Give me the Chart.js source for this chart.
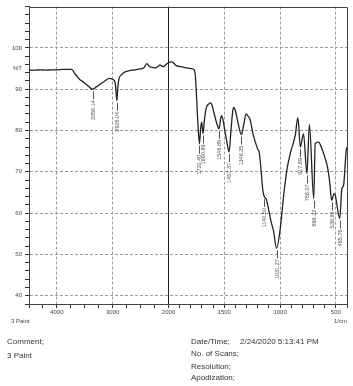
<!DOCTYPE html>
<html><head><meta charset="utf-8">
<script src="https://cdn.jsdelivr.net/npm/chart.js@4.4.0/dist/chart.umd.min.js"></script>
<style>
html,body{margin:0;padding:0;background:#fff;}
#wrap{position:relative;width:353px;height:386px;overflow:hidden;font-family:"Liberation Sans",Arial,sans-serif;color:#333;}
#c{position:absolute;left:0;top:0;}
.t{position:absolute;font-size:8px;line-height:10px;white-space:nowrap;}
.s{position:absolute;font-size:6px;line-height:8px;white-space:nowrap;color:#444;}
</style></head><body>
<div id="wrap">
<canvas id="c" width="353" height="330"></canvas>
<div class="s" style="left:11px;top:317px">3 Paint</div>
<div class="s" style="right:6px;top:317px">1/cm</div>
<div class="t" style="left:7px;top:337px">Comment;</div>
<div class="t" style="left:7px;top:351px">3 Paint</div>
<div class="t" style="left:191px;top:337px">Date/Time;</div>
<div class="t" style="left:240px;top:337px">2/24/2020 5:13:41 PM</div>
<div class="t" style="left:191px;top:349px">No. of Scans;</div>
<div class="t" style="left:191px;top:362px">Resolution;</div>
<div class="t" style="left:191px;top:373px">Apodization;</div>
</div>
<script>
// ---- data (wavenumber in 1/cm, transmittance %T) ----
const wavenumbers = [4500,4400,4300,4200,4100,4000,3900,3800,3734,3680,3620,3586,3540,3496,3440,3400,3356,3300,3226,3140,3060,3020,2990,2960,2945,2926,2910,2890,2850,2778,2700,2600,2510,2440,2389,2360,2330,2290,2240,2190,2150,2120,2090,2050,2001,1970,1950,1930,1900,1850,1800,1770,1760,1748,1735,1722,1712,1702,1690,1678,1660,1640,1627,1610,1590,1570,1546,1535,1527,1513,1495,1475,1457,1440,1425,1417,1400,1381,1346,1325,1304,1285,1268,1245,1223,1200,1185,1154,1140,1125,1110,1080,1060,1031,1000,969,939,909,864,840,818,790,759,737,698,685,655,625,595,575,555,538,515,505,465,446,431,407,400];
const transmittance = [94.6,94.6,94.7,94.6,94.7,94.7,94.8,94.8,94.8,93.8,92.8,92.3,91.9,91.4,90.8,90.3,90.0,90.5,91.2,92.0,92.6,92.5,92.3,91.8,90.4,87.2,90.0,92.4,93.4,94.2,94.5,94.7,94.9,95.2,96.2,95.8,95.4,95.3,95.1,95.5,95.9,95.6,95.5,95.9,96.4,96.6,96.2,95.7,95.5,95.2,95.0,94.7,93.5,88.0,81.0,76.8,80.5,82.0,79.3,82.5,85.6,86.4,86.7,86.2,84.0,82.0,80.4,82.5,83.6,82.8,80.0,77.0,74.8,80.0,84.5,85.6,84.8,82.4,79.0,81.5,84.0,83.4,82.6,79.5,77.3,75.5,74.5,65.5,63.9,63.5,61.9,57.9,55.9,51.5,55.9,63.9,70.4,74.4,78.8,83.1,76.0,79.2,69.6,81.4,63.5,76.8,77.2,75.6,73.2,71.2,67.5,63.1,64.7,64.3,58.7,65.9,66.7,75.2,76.0];
const peakWavenumbers = [3356,2926,1722,1690,1546,1457,1346,1140,1031,818,759,698,538,465];
const peakLabels = ["3356.14","2926.04","1720.40","1690.89","1546.89","1457.37","1346.25","1140.50","1031.27","817.89","758.07","698.22","538.85","465.76"];
const xTickLabels = [4000,3000,2000,1500,1000,500];
const yTickLabels = [40,50,60,70,80,90,100];
const yAxisTitleValue = 95;

// split wavenumber axis: 4500-2000 compressed 2x, 2000-400 expanded
function toP(w){ return w >= 2000 ? (4500 - w) / 2 : 1250 + (2000 - w); }
function toW(p){ return p <= 1250 ? 4500 - 2 * p : 2000 - (p - 1250); }

const points = wavenumbers.map((w,i)=>({x: toP(w), y: transmittance[i]}));
const xMinor = [];
for (let w = 4500; w >= 2000; w -= 250) xMinor.push(w);
for (let w = 1900; w >= 400; w -= 100) xMinor.push(w);
const yMinor = [];
for (let v = 38; v <= 110; v += 2) yMinor.push(v);
yMinor.push(yAxisTitleValue);
yMinor.sort((a,b)=>a-b);

const FONT = '"Liberation Sans", Arial, sans-serif';
const near = (a,b)=>Math.abs(a-b)<1e-6;

const overlay = {
  id: 'overlay',
  beforeDatasetsDraw(chart){
    const {ctx, chartArea:a, scales:{x}} = chart;
    const px = Math.round(x.getPixelForValue(toP(2000))) + 0.5;
    ctx.save();
    ctx.strokeStyle = '#222'; ctx.lineWidth = 1;
    ctx.beginPath(); ctx.moveTo(px, a.top); ctx.lineTo(px, a.bottom); ctx.stroke();
    ctx.restore();
  },
  afterDatasetsDraw(chart){
    const {ctx, chartArea:a, scales:{x,y}} = chart;
    ctx.save();
    ctx.strokeStyle = '#444'; ctx.lineWidth = 1;
    ctx.beginPath();
    ctx.moveTo(a.left, Math.round(a.top)+0.5); ctx.lineTo(Math.round(a.right)+0.5, Math.round(a.top)+0.5);
    ctx.lineTo(Math.round(a.right)+0.5, a.bottom);
    ctx.stroke();
    // peak labels
    ctx.fillStyle = '#555'; ctx.strokeStyle = '#555';
    ctx.font = '5.5px ' + FONT;
    peakWavenumbers.forEach((w,i)=>{
      const idx = wavenumbers.indexOf(w);
      const px = Math.round(x.getPixelForValue(toP(w))) + 0.5;
      const py = y.getPixelForValue(transmittance[idx]);
      ctx.beginPath(); ctx.moveTo(px, py + 2); ctx.lineTo(px, py + 10); ctx.stroke();
      ctx.save();
      ctx.translate(px, py + 11);
      ctx.rotate(-Math.PI/2);
      ctx.textAlign = 'right'; ctx.textBaseline = 'middle';
      ctx.fillText(peakLabels[i], 0, 0);
      ctx.restore();
    });
    ctx.restore();
  }
};

new Chart(document.getElementById('c'), {
  type: 'line',
  data: { datasets: [{
    data: points, borderColor: '#222', borderWidth: 1.3, pointRadius: 0,
    cubicInterpolationMode: 'monotone', fill: false
  }]},
  options: {
    responsive: false, animation: false, devicePixelRatio: 1,
    layout: { padding: { top: 6, right: 6, left: 0, bottom: 0 } },
    plugins: { legend: { display: false }, tooltip: { enabled: false } },
    scales: {
      x: {
        type: 'linear', min: 0, max: toP(400),
        afterBuildTicks(s){ s.ticks = xMinor.map(w=>({value: toP(w)})); },
        afterFit(s){ s.height = 26; },
        ticks: {
          autoSkip: false, maxRotation: 0, padding: 1, color: '#444',
          font: { size: 6, family: FONT },
          callback(v){ const w = Math.round(toW(v)); return xTickLabels.includes(w) ? String(w) : ''; }
        },
        grid: {
          color(c){ const w = Math.round(toW(c.tick.value)); return (xTickLabels.includes(w) && w !== 2000) ? '#9a9a9a' : 'rgba(0,0,0,0)'; },
          tickColor: '#333', tickLength: 4, lineWidth: 1
        },
        border: { display: true, color: '#444', width: 1, dash: [3,2] }
      },
      y: {
        type: 'linear', min: 38, max: 110,
        afterBuildTicks(s){ s.ticks = yMinor.map(v=>({value: v})); },
        afterFit(s){ s.width = 29; },
        ticks: {
          autoSkip: false, padding: 3, color: '#444',
          font: { size: 6, family: FONT },
          callback(v){ if (near(v, yAxisTitleValue)) return '%T'; return yTickLabels.includes(v) ? String(v) : ''; }
        },
        grid: {
          color(c){ return yTickLabels.includes(c.tick.value) ? '#9a9a9a' : 'rgba(0,0,0,0)'; },
          tickColor(c){ return near(c.tick.value, yAxisTitleValue) ? 'rgba(0,0,0,0)' : '#333'; },
          tickLength: 4, lineWidth: 1
        },
        border: { display: true, color: '#444', width: 1, dash: [3,2] }
      }
    }
  },
  plugins: [overlay]
});
</script>
</body></html>
